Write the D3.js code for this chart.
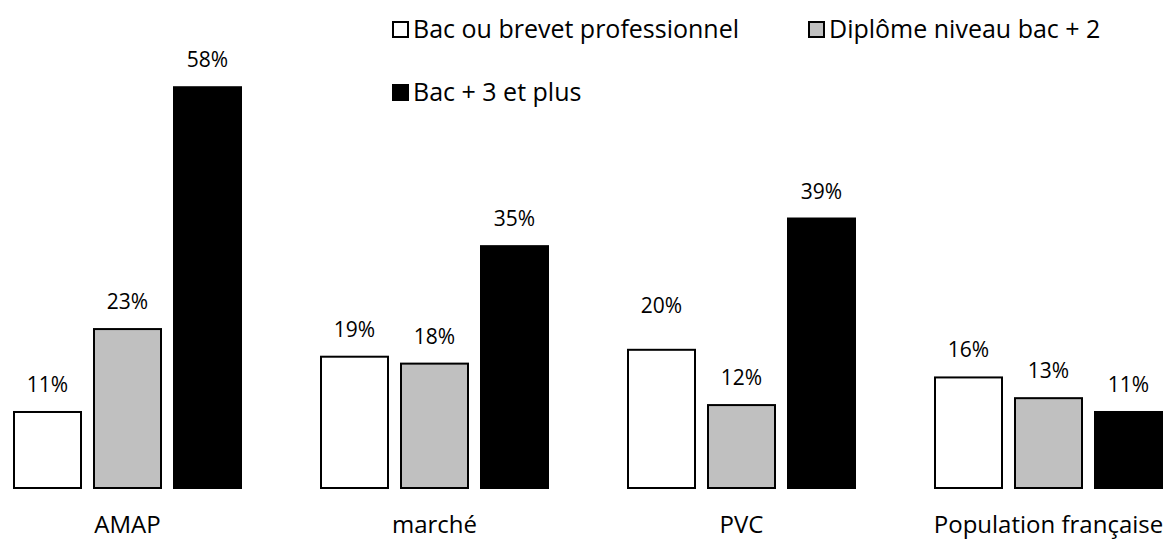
<!DOCTYPE html>
<html>
<head>
<meta charset="utf-8">
<script src="https://cdn.jsdelivr.net/npm/d3@7"></script>
<style>
  html, body { margin: 0; padding: 0; background: #fff; }
  svg text { font-family: "Open Sans", "Noto Sans", sans-serif; fill: #000; }
</style>
</head>
<body>
<svg id="chart" width="1172" height="540"></svg>
<script>
// Lieux d'achat et niveau de diplôme
const categories = ["AMAP", "marché", "PVC", "Population française"];
const seriesNames = ["Bac ou brevet professionnel", "Diplôme niveau bac + 2", "Bac + 3 et plus"];
const bacPro = [11, 19, 20, 16];
const bacPlus2 = [23, 18, 12, 13];
const bacPlus3 = [58, 35, 39, 11];
const seriesFill = ["#ffffff", "#c0c0c0", "#000000"];

const seriesValues = [bacPro, bacPlus2, bacPlus3];

const svg = d3.select("#chart");
const baseline = 488;

const x0 = d3.scaleBand().domain(categories).range([-26, 1202]).padding(0);
const x1 = d3.scaleBand().domain(seriesNames).range([40, 267]).paddingInner(0.1625).paddingOuter(0);
const y = d3.scaleLinear().domain([0, 60]).range([baseline, 73.4]);

const rows = [];
categories.forEach((c, i) => {
  seriesNames.forEach((s, j) => {
    rows.push({ cat: c, series: s, idx: j, value: seriesValues[j][i] });
  });
});

// the PVC / bac pro label sits a little higher than the others
const labelLift = d => (d.cat === "PVC" && d.idx === 0 ? 17 : 0);

const g = svg.append("g");

g.selectAll("rect.bar")
  .data(rows)
  .join("rect")
  .attr("class", "bar")
  .attr("x", d => x0(d.cat) + x1(d.series))
  .attr("y", d => y(d.value))
  .attr("width", x1.bandwidth())
  .attr("height", d => y(0) - y(d.value))
  .attr("fill", d => seriesFill[d.idx])
  .attr("stroke", "#000")
  .attr("stroke-width", 2);

g.selectAll("text.val")
  .data(rows)
  .join("text")
  .attr("class", "val")
  .attr("x", d => x0(d.cat) + x1(d.series) + x1.bandwidth() / 2)
  .attr("y", d => y(d.value) - 20 - labelLift(d))
  .attr("text-anchor", "middle")
  .attr("font-size", 21)
  .text(d => d.value + "%");

g.selectAll("text.cat")
  .data(categories)
  .join("text")
  .attr("class", "cat")
  .attr("x", d => x0(d) + x0.bandwidth() / 2)
  .attr("y", 533)
  .attr("text-anchor", "middle")
  .attr("font-size", 24)
  .text(d => d);

// Légende
const legendPos = [[392, 21], [808, 21], [392, 84]];
const legend = svg.append("g").selectAll("g")
  .data(seriesNames)
  .join("g")
  .attr("transform", (d, i) => `translate(${legendPos[i][0]},${legendPos[i][1]})`);

legend.append("rect")
  .attr("x", 1).attr("y", 1)
  .attr("width", 15).attr("height", 15)
  .attr("fill", (d, i) => seriesFill[i])
  .attr("stroke", "#000").attr("stroke-width", 2);

legend.append("text")
  .attr("x", 21).attr("y", 17)
  .attr("font-size", 25)
  .text(d => d);
</script>
</body>
</html>
